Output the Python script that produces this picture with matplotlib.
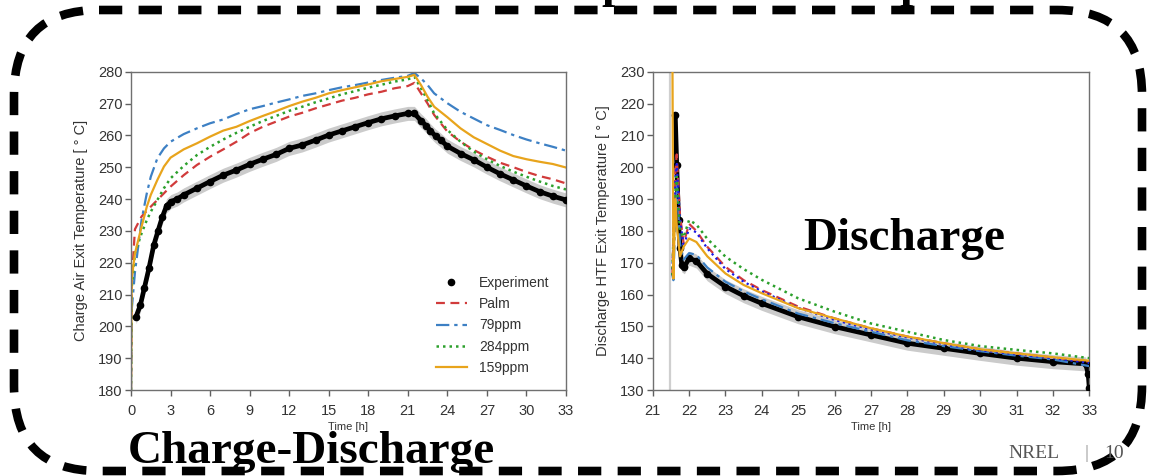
import matplotlib
matplotlib.use('Agg')
import matplotlib.pyplot as plt
from matplotlib.patches import FancyBboxPatch

plt.rcParams['font.family'] = ['Liberation Sans', 'DejaVu Sans']

# ---------------------------------------------------------------- charge (left)
chg_t_exp = [0.38, 0.71, 1.01, 1.36, 1.72, 2.05, 2.37, 2.70, 3.03, 3.5, 4, 5, 6, 7, 8,
             9, 10, 11, 12, 13, 14, 15, 16, 17, 18, 19, 20, 21, 21.5, 22.0, 22.4, 22.7,
             23.1, 23.5, 24, 25, 26, 27, 28, 29, 30, 31, 32, 33]
chg_T_exp = [203.0, 206.7, 212.0, 218.2, 225.4, 230.0, 234.3, 237.9, 239.2, 240.0, 241.3,
             243.4, 245.5, 247.5, 249.1, 250.9, 252.5, 254.0, 255.9, 257.0, 258.5, 260.1,
             261.4, 262.7, 264.0, 265.2, 266.1, 266.9, 266.9, 264.6, 263.0, 261.5, 259.8,
             258.5, 256.6, 254.3, 252.3, 250.0, 247.9, 246.0, 244.1, 242.3, 240.9, 239.7]

chg_t = [0, 0.05, 0.3, 0.8, 1.2, 1.5, 2, 2.5, 3, 4, 5, 6, 7, 8, 9, 10, 11, 12, 13, 14, 15,
         16, 17, 18, 19, 20, 21, 21.5, 22, 22.5, 23, 24, 25, 26, 27, 28, 29, 30, 31, 32, 33]
chg_palm = [180, 214, 230.5, 234.5, 236.3, 237.6, 239.7, 241.8, 243.9, 247.5, 250.7, 253.3,
            255.6, 258.0, 260.7, 262.7, 264.3, 265.9, 267.1, 268.5, 269.7, 270.9, 271.8,
            272.9, 273.7, 274.8, 275.5, 276.5, 273.2, 270.0, 266.4, 261.2, 258.0, 255.4,
            253.3, 251.4, 250.0, 248.5, 247.2, 246.2, 244.9]
chg_79 = [180, 205, 217, 233.4, 241.8, 247.0, 252.8, 255.9, 258.0, 260.4, 262.2, 263.8,
          265.0, 266.7, 268.2, 269.2, 270.3, 271.3, 272.4, 273.2, 274.2, 275.1, 275.8,
          276.6, 277.4, 278.1, 278.7, 279.6, 277.9, 275.8, 273.2, 270.1, 267.4, 265.3,
          263.2, 261.7, 260.1, 258.7, 257.5, 256.4, 255.2]
chg_284 = [180, 212, 223, 229.2, 233.4, 236.0, 239.7, 243.4, 246.5, 250.4, 253.8, 256.4,
           258.7, 260.8, 262.7, 264.5, 266.1, 267.7, 269.0, 270.4, 271.6, 272.9, 273.9,
           275.0, 275.9, 276.9, 277.6, 278.4, 274.8, 271.1, 266.9, 261.7, 258.0, 254.9,
           252.5, 250.4, 248.6, 247.0, 245.5, 244.1, 243.0]
chg_159 = [180, 215, 222.9, 231.3, 237.6, 241.3, 246.0, 250.2, 253.0, 255.6, 257.5, 259.6,
           261.5, 262.7, 264.5, 266.1, 267.6, 269.2, 270.6, 271.8, 273.2, 274.2, 275.1,
           276.0, 277.0, 277.7, 278.4, 279.0, 275.8, 272.1, 269.0, 265.7, 262.2, 259.4,
           257.3, 255.2, 253.5, 252.5, 251.7, 251.0, 249.9]

# ------------------------------------------------------------- discharge (right)
dis_start = 21.47
dis_t_exp = [21.62, 21.66, 21.71, 21.75, 21.8, 21.87, 22.0, 22.2, 22.5, 23, 23.5, 24, 25,
             26, 27, 28, 29, 30, 31, 32, 32.9, 32.97, 33.0]
dis_T_exp = [216.4, 200.7, 183.4, 174.5, 169.3, 168.7, 171.4, 170.5, 166.5, 162.5, 159.6,
             157.2, 153.0, 149.9, 147.3, 144.7, 143.1, 141.5, 140.0, 138.9, 138.2, 135.0,
             130.5]

dis_t = [21.54, 21.57, 21.62, 21.66, 21.75, 21.85, 22.0, 22.2, 22.5, 23, 23.5, 24, 25, 26,
         27, 28, 29, 30, 31, 32, 33]
dis_palm = [166, 180, 198, 204, 185, 176, 182.2, 180.0, 175.0, 168.7, 164.5, 161.4, 156.2,
            152.5, 149.4, 146.8, 144.7, 142.8, 141.5, 140.2, 138.9]
dis_ref = [166, 178, 196, 201, 184, 175, 180.8, 179.5, 174.5, 168.0, 164.0, 161.0, 155.8,
           152.0, 149.0, 146.5, 144.4, 142.5, 141.2, 140.0, 138.5]
dis_79 = [166, 164.5, 185, 196, 176, 171, 173.0, 172.5, 168.5, 164.0, 161.0, 158.5, 154.0,
          151.0, 148.3, 145.6, 143.8, 142.2, 140.8, 139.6, 137.5]
dis_284 = [166, 178, 192, 197, 180, 178, 183.4, 182.0, 177.5, 171.9, 168.0, 164.6, 158.8,
           154.6, 150.9, 148.3, 145.7, 143.8, 142.6, 141.5, 140.0]
dis_159 = [240, 165, 190, 182, 172, 175, 177.6, 176.5, 172.0, 166.6, 163.0, 160.4, 155.7,
           152.5, 149.4, 146.8, 144.7, 142.8, 141.5, 140.3, 139.2]

chg_xticks = list(range(0, 34, 3))
dis_xticks = list(range(21, 34))

RED, BLUE, GREEN, GOLD = '#d13b3b', '#3d80c4', '#2ca02c', '#e8a41c'


def style_axes(ax):
    for s in ax.spines.values():
        s.set_color('#707070')
        s.set_linewidth(1.0)
    ax.tick_params(direction='out', length=4, width=1, color='#606060',
                   labelcolor='#333333', labelsize=10.5, top=False, right=False)
    ax.tick_params(axis='x', pad=6)
    ax.tick_params(axis='y', pad=2)


def band(ax, t, T, half=2.2):
    lo = [v - half for v in T]
    hi = [v + half for v in T]
    ax.fill_between(t, lo, hi, color='#b5b5b5', alpha=0.7, lw=0, zorder=1)


fig = plt.figure(figsize=(11.5, 4.76), dpi=100)
fig.patch.set_facecolor('white')

bottom, height = 1 - 390 / 476, 318.3 / 476
ax1 = fig.add_axes([131 / 1150, bottom, 435 / 1150, height])
ax2 = fig.add_axes([652.7 / 1150, bottom, 436.6 / 1150, height])

# charge panel
band(ax1, chg_t_exp, chg_T_exp)
ax1.plot(chg_t_exp, chg_T_exp, color='black', lw=3.4, zorder=2)
ax1.plot(chg_t_exp, chg_T_exp, 'o', color='black', ms=4.5, zorder=3, label='Experiment')
ax1.plot(chg_t, chg_palm, '--', color=RED, lw=1.6, dashes=(4, 2.5), label='Palm')
ax1.plot(chg_t, chg_79, '-.', color=BLUE, lw=1.6, dashes=(6, 2.2, 1.5, 2.2), label='79ppm')
ax1.plot(chg_t, chg_284, ':', color=GREEN, lw=1.8, dashes=(1, 1.6), label='284ppm')
ax1.plot(chg_t, chg_159, '-', color=GOLD, lw=1.6, label='159ppm')
ax1.set_xlim(0, 33)
ax1.set_ylim(180, 280)
ax1.set_xticks(chg_xticks)
ax1.set_yticks(range(180, 281, 10))
ax1.set_xlabel('Time [h]', fontsize=8, color='#333333', labelpad=3)
ax1.set_ylabel('Charge Air Exit Temperature [ ° C]', fontsize=10.5, color='#333333',
               labelpad=7)
style_axes(ax1)
ax1.legend(loc='lower right', bbox_to_anchor=(0.975, 0.03), frameon=False, fontsize=10,
           handlelength=2.2, handletextpad=0.9, labelspacing=0.52, borderaxespad=0,
           labelcolor='#333333')

# discharge panel
ax2.axvline(dis_start, color='#cfcfcf', lw=1.6, zorder=0)
band(ax2, dis_t_exp, dis_T_exp)
ax2.plot(dis_t_exp, dis_T_exp, color='black', lw=3.4, zorder=2)
ax2.plot(dis_t_exp, dis_T_exp, 'o', color='black', ms=4.5, zorder=3)
ax2.plot(dis_t, dis_79, '-.', color=BLUE, lw=1.6, dashes=(6, 2.2, 1.5, 2.2), zorder=4)
ax2.plot(dis_t, dis_palm, '--', color=RED, lw=1.6, dashes=(4, 2.5), zorder=4)
ax2.plot(dis_t, dis_ref, ':', color='#1a1ae6', lw=1.6, dashes=(1, 1.6), zorder=4)
ax2.plot(dis_t, dis_284, ':', color=GREEN, lw=1.8, dashes=(1, 1.6), zorder=4)
ax2.plot(dis_t, dis_159, '-', color=GOLD, lw=1.6, zorder=5)
ax2.set_xlim(21, 33)
ax2.set_ylim(130, 230)
ax2.set_xticks(dis_xticks)
ax2.set_yticks(range(130, 231, 10))
ax2.set_xlabel('Time [h]', fontsize=8, color='#333333', labelpad=3)
ax2.set_ylabel('Discharge HTF Exit Temperature [ ° C]', fontsize=10.5, color='#333333',
               labelpad=7)
style_axes(ax2)

# slide overlay in pixel units: dashed frame and captions
ov = fig.add_axes([0, 0, 1, 1], zorder=10)
ov.set_xlim(0, 1150)
ov.set_ylim(476, 0)
ov.axis('off')
ov.patch.set_alpha(0)

frame = FancyBboxPatch((14, 10), 1128, 461, boxstyle='round,pad=0,rounding_size=85',
                       fill=False, ec='black', lw=6.2, linestyle=(0, (2.7, 1.9)),
                       capstyle='butt')
ov.add_patch(frame)

serif = ['Liberation Serif', 'DejaVu Serif']
ov.text(128, 463, 'Charge-Discharge', family=serif, weight='bold', fontsize=34,
        ha='left', va='baseline')
ov.text(904, 250, 'Discharge', family=serif, weight='bold', fontsize=34,
        ha='center', va='baseline')
# descenders of the slide title sitting just above the frame
for x in (601, 899):
    ov.text(x, -3, 'p', family=serif, weight='bold', fontsize=34, ha='left',
            va='baseline')
ov.text(1008, 458, 'NREL', family=serif, fontsize=14, color='#555555', ha='left',
        va='baseline')
ov.text(1087, 458, '|', family=serif, fontsize=14, color='#999999', ha='center',
        va='baseline')
ov.text(1104, 458, '10', family=serif, fontsize=14, color='#555555', ha='left',
        va='baseline')

fig.savefig('out.png', dpi=100)
